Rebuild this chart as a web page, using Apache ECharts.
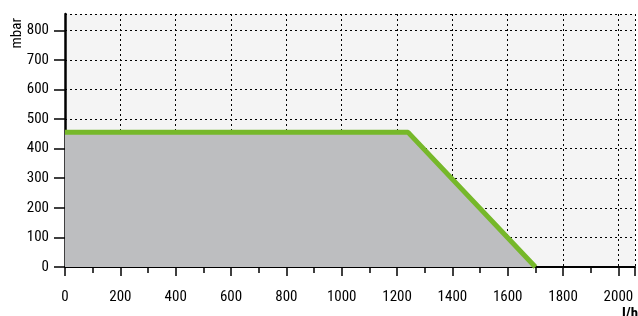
<!DOCTYPE html>
<html>
<head>
    <meta charset="utf-8" />
    <title>mbar vs l/h</title>
    <script src="https://cdn.jsdelivr.net/npm/echarts@6/dist/echarts.min.js"></script>
    <style>
        body { margin: 0; background: #fff; }
    </style>
</head>
<body>
<div id="main" style="width:638px;height:316px;"></div>
<script type="text/javascript">
    // flow (l/h) and pressure (mbar) points of the curve
    var flow = [0, 1240, 1700];
    var pressure = [455, 455, 0];
    var xTicks = [0, 200, 400, 600, 800, 1000, 1200, 1400, 1600, 1800, 2000];
    var yTicks = [0, 100, 200, 300, 400, 500, 600, 700, 800];

    var font = '"Roboto Condensed", "DejaVu Sans Condensed", sans-serif';
    var points = flow.map(function (f, i) { return [f, pressure[i]]; });

    var myChart = echarts.init(document.getElementById('main'));
    var option = {
        animation: false,
        textStyle: { fontFamily: font },
        grid: {
            left: 65, right: 3, top: 14, bottom: 49,
            show: true,
            backgroundColor: '#f4f4f4',
            borderWidth: 0
        },
        xAxis: {
            type: 'value',
            min: 0,
            max: 2060,
            interval: 200,
            axisLine: { lineStyle: { color: '#000', width: 2 } },
            axisTick: { length: 9, lineStyle: { color: '#000', width: 1.5 } },
            minorTick: { show: true, splitNumber: 2, length: 6, lineStyle: { color: '#000', width: 1.5 } },
            axisLabel: {
                color: '#000', fontSize: 15, margin: 23, fontFamily: font,
                showMaxLabel: false,
                formatter: function (v) { return xTicks.indexOf(v) >= 0 ? v : ''; }
            },
            splitLine: { show: true, lineStyle: { color: '#000', type: [2, 3], width: 1 } }
        },
        yAxis: {
            type: 'value',
            min: 0,
            max: 855,
            interval: 100,
            axisLine: { show: true, lineStyle: { color: '#000', width: 2.5 } },
            axisTick: { show: true, length: 11, lineStyle: { color: '#000', width: 1.5 } },
            axisLabel: {
                color: '#000', fontSize: 15, margin: 16, fontFamily: font,
                showMaxLabel: false,
                formatter: function (v) { return yTicks.indexOf(v) >= 0 ? v : ''; }
            },
            splitLine: { show: true, lineStyle: { color: '#000', type: [2, 3], width: 1 } }
        },
        graphic: [
            {
                type: 'text', left: 10, top: 18, rotation: Math.PI / 2,
                style: { text: 'mbar', fontSize: 15, fill: '#000', fontFamily: font }
            },
            {
                type: 'text', left: 622, top: 307,
                style: { text: 'l/h', fontSize: 15, fontWeight: 'bold', fill: '#000', fontFamily: font }
            }
        ],
        series: [
            {
                type: 'line',
                data: points,
                symbol: 'none',
                lineStyle: { color: '#76b82a', width: 5 },
                areaStyle: { color: '#bdbec0', opacity: 1 },
                z: 3
            }
        ]
    };

    myChart.setOption(option);
</script>
</body>
</html>
